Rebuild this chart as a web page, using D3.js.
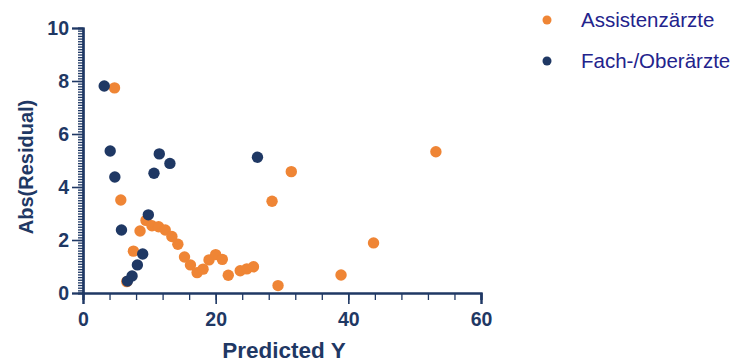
<!DOCTYPE html>
<html>
<head>
<meta charset="utf-8">
<script src="https://cdn.jsdelivr.net/npm/d3@7"></script>
<style>
  body { margin: 0; background: #fff; }
  text { font-family: "Liberation Sans", Arial, sans-serif; }
</style>
</head>
<body>
<div id="chart"></div>
<script>
// series names
var seriesNames = ["Assistenzärzte", "Fach-/Oberärzte"];

// Assistenzärzte: predicted Y and abs(residual)
var assistX = [4.75, 5.7, 6.6, 7.6, 8.6, 9.5, 10.4, 11.4, 12.4, 13.4, 14.3, 15.3, 16.2, 17.2,
               18.1, 19.0, 20.0, 21.0, 21.9, 23.7, 24.7, 25.7, 28.5, 29.4, 31.4, 38.9, 43.8, 53.2];
var assistY = [7.74, 3.51, 0.43, 1.58, 2.34, 2.74, 2.54, 2.50, 2.38, 2.13, 1.84, 1.36, 1.06, 0.77,
               0.90, 1.25, 1.45, 1.27, 0.67, 0.84, 0.91, 0.99, 3.46, 0.28, 4.58, 0.68, 1.89, 5.33];

// Fach-/Oberärzte
var oberX = [3.2, 4.1, 4.8, 5.8, 6.7, 7.4, 8.2, 9.0, 9.85, 10.7, 11.5, 13.1, 26.3];
var oberY = [7.81, 5.36, 4.38, 2.38, 0.45, 0.64, 1.06, 1.47, 2.95, 4.52, 5.25, 4.89, 5.12];

var xTicks = [0, 20, 40, 60];
var yTicks = [0, 2, 4, 6, 8, 10];

var colors = ["#ef8535", "#1f3864"];
var axisColor = "#1f3864";

var margin = { top: 28, right: 255, bottom: 69, left: 83 },
    width = 736 - margin.left - margin.right,
    height = 362 - margin.top - margin.bottom;

var svg = d3.select("#chart")
    .append("svg")
    .attr("width", 736)
    .attr("height", 362);

var g = svg.append("g")
    .attr("transform", "translate(" + margin.left + "," + margin.top + ")");

var x = d3.scaleLinear().domain([0, 60]).range([0, width]);
var y = d3.scaleLinear().domain([0, 10]).range([height, 0]);

// minor ticks first, then major axes on top
g.append("g")
    .attr("class", "minor")
    .attr("transform", "translate(0," + height + ")")
    .call(d3.axisBottom(x).tickValues(d3.range(0, 61, 4)).tickSize(7).tickFormat(""));

g.append("g")
    .attr("class", "minor")
    .call(d3.axisLeft(y).tickValues(d3.range(0, 101, 1).map(function (d) { return d / 10; })).tickSize(5).tickFormat(""));

var xAxis = g.append("g")
    .attr("transform", "translate(0," + height + ")")
    .call(d3.axisBottom(x).tickValues(xTicks).tickSize(11).tickPadding(8));

var yAxis = g.append("g")
    .call(d3.axisLeft(y).tickValues(yTicks).tickSize(11).tickPadding(3));

g.selectAll(".domain").attr("stroke", axisColor).attr("stroke-width", 2.2);
g.selectAll(".tick line").attr("stroke", axisColor).attr("stroke-width", 1.6);
g.selectAll(".minor .tick line").attr("stroke-width", 1.3);
g.selectAll(".tick text")
    .attr("fill", axisColor)
    .style("font-size", "19.5px")
    .style("font-weight", "bold");

// points: orange first, navy on top
var series = [
    { xs: assistX, ys: assistY },
    { xs: oberX, ys: oberY }
];
series.forEach(function (s, i) {
    g.append("g")
        .selectAll("circle")
        .data(s.xs.map(function (v, j) { return [v, s.ys[j]]; }))
        .enter().append("circle")
        .attr("cx", function (d) { return x(d[0]); })
        .attr("cy", function (d) { return y(d[1]); })
        .attr("r", 5.7)
        .attr("fill", colors[i]);
});

// axis titles
svg.append("text")
    .attr("x", margin.left + width / 2 + 2)
    .attr("y", 358)
    .attr("text-anchor", "middle")
    .attr("fill", axisColor)
    .style("font-size", "22.5px")
    .style("font-weight", "bold")
    .text("Predicted Y");

svg.append("text")
    .attr("transform", "translate(33," + 167 + ") rotate(-90)")
    .attr("text-anchor", "middle")
    .attr("fill", axisColor)
    .style("font-size", "20px")
    .style("font-weight", "bold")
    .text("Abs(Residual)");

// legend
var legend = svg.append("g").attr("transform", "translate(547,20)");
seriesNames.forEach(function (name, i) {
    var row = legend.append("g").attr("transform", "translate(0," + (i * 41) + ")");
    row.append("circle").attr("r", 4.5).attr("fill", colors[i]);
    row.append("text")
        .attr("x", 34)
        .attr("y", 7)
        .attr("fill", "#23238c")
        .style("font-size", "20.5px")
        .text(name);
});
</script>
</body>
</html>
